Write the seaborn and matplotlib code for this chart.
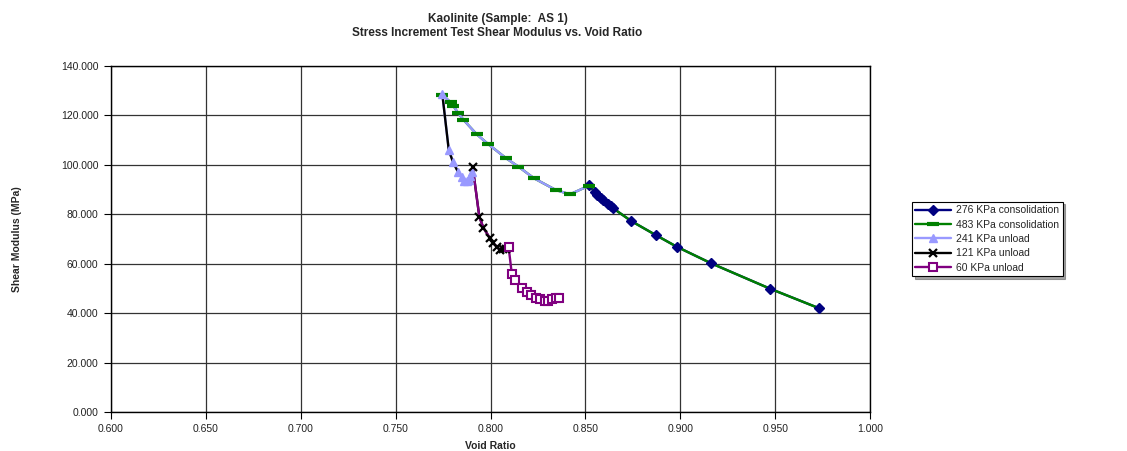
import numpy as np
import pandas as pd
import matplotlib
matplotlib.use("Agg")
import matplotlib.pyplot as plt
from matplotlib.lines import Line2D
import seaborn as sns

# Void ratio / shear modulus (MPa) for each loading stage
e_276_cons = [0.9731, 0.9473, 0.9162, 0.8981, 0.8871, 0.8741, 0.8647, 0.8633,
              0.8621, 0.8591, 0.8581, 0.8563, 0.8550, 0.8520]
g_276_cons = [42.0, 49.9, 60.2, 66.9, 71.6, 77.3, 82.4, 83.4,
              84.2, 85.8, 86.5, 87.8, 88.9, 91.8]

e_483_cons = [0.8519, 0.8419, 0.8345, 0.8229, 0.8147, 0.8082, 0.7988, 0.7927,
              0.7857, 0.7830, 0.7804, 0.7790, 0.7746]
g_483_cons = [91.6, 88.1, 89.8, 94.6, 99.3, 102.7, 108.4, 112.4,
              118.3, 120.9, 123.9, 125.3, 128.4]

e_241_unl = [0.7746, 0.7780, 0.7803, 0.7830, 0.7848, 0.7862, 0.7875, 0.7885,
             0.7893, 0.7900]
g_241_unl = [128.6, 106.0, 101.0, 97.0, 95.0, 93.5, 93.3, 94.0, 95.5, 97.0]

e_121_unl = [0.7906, 0.7941, 0.7962, 0.7997, 0.8015, 0.8033, 0.8050, 0.8065,
             0.8080]
g_121_unl = [99.2, 79.0, 74.6, 70.3, 68.3, 66.9, 65.5, 65.8, 66.0]

e_60_unl = [0.8095, 0.8112, 0.8130, 0.8165, 0.8190, 0.8215, 0.8240, 0.8262,
            0.8285, 0.8305, 0.8325, 0.8345, 0.8360]
g_60_unl = [66.9, 56.0, 53.3, 50.2, 48.6, 47.3, 46.1, 45.6,
            45.0, 45.1, 45.6, 46.0, 46.3]

series_names = ["276 KPa consolidation", "483 KPa consolidation",
                "241 KPa unload", "121 KPa unload", "60 KPa unload"]

x_ticks = [0.600, 0.650, 0.700, 0.750, 0.800, 0.850, 0.900, 0.950, 1.000]
y_ticks = [0.0, 20.0, 40.0, 60.0, 80.0, 100.0, 120.0, 140.0]

title_lines = ["Kaolinite (Sample:  AS 1)",
               "Stress Increment Test Shear Modulus vs. Void Ratio"]
x_label = "Void Ratio"
y_label = "Shear Modulus (MPa)"

# Style for each stage
styles = [
    dict(color="#000080", marker="D", ms=5, mfc="#000080", mec="#000080", mew=1.0),
    dict(color="#008000", marker="_", ms=9, mfc="#008000", mec="#008000", mew=3.0),
    dict(color="#9999FF", marker="^", ms=6, mfc="#9999FF", mec="#9999FF", mew=1.0),
    dict(color="#000000", marker="x", ms=6, mfc="#000000", mec="#000000", mew=1.6),
    dict(color="#800080", marker="s", ms=6, mfc="white", mec="#800080", mew=1.5),
]

sns.set_theme(style="white")
plt.rcParams["font.family"] = ["Liberation Sans", "DejaVu Sans"]

frames = []
for name, e, g in zip(series_names,
                      [e_276_cons, e_483_cons, e_241_unl, e_121_unl, e_60_unl],
                      [g_276_cons, g_483_cons, g_241_unl, g_121_unl, g_60_unl]):
    frames.append(pd.DataFrame({"void_ratio": e, "G": g, "stage": name}))

fig = plt.figure(figsize=(11.27, 4.51), dpi=100)
ax = fig.add_axes([0.0985, 0.0865, 0.6735, 0.767])

# Each stage's curve carries on from the path of the stage before it
for i, df in enumerate(frames):
    path = df if i == 0 else pd.concat([frames[i - 1], df], ignore_index=True)
    sns.lineplot(data=path, x="void_ratio", y="G", sort=False, estimator=None,
                 color=styles[i]["color"], lw=1.7, ax=ax, zorder=3 + i,
                 legend=False)

# Markers on top of all curves
for i, df in enumerate(frames):
    st = styles[i]
    sns.lineplot(data=df, x="void_ratio", y="G", sort=False, estimator=None,
                 linestyle="none", marker=st["marker"], markersize=st["ms"],
                 markerfacecolor=st["mfc"], markeredgecolor=st["mec"],
                 markeredgewidth=st["mew"], ax=ax, zorder=10 + i, legend=False)

ax.set_xlim(0.6, 1.0)
ax.set_ylim(0, 140)
ax.set_xticks(x_ticks)
ax.set_yticks(y_ticks)
ax.set_xticklabels([f"{v:.3f}" for v in x_ticks])
ax.set_yticklabels([f"{v:.3f}" for v in y_ticks])
ax.grid(True, color="#333333", lw=0.9)
ax.set_axisbelow(True)
for sp in ax.spines.values():
    sp.set_color("black")
    sp.set_linewidth(1.0)
ax.tick_params(axis="both", direction="out", length=5, width=0.8, color="black",
               labelsize=7.5, pad=4, labelcolor="#222222",
               bottom=True, left=True)

ax.set_xlabel(x_label, fontsize=7.5, fontweight="bold", labelpad=5)
ax.set_ylabel(y_label, fontsize=7.5, fontweight="bold")
ax.yaxis.set_label_coords(-0.117, 0.5)

fig.text(0.4415, 0.958, title_lines[0], ha="center", va="center",
         fontsize=8.5, fontweight="bold")
fig.text(0.4415, 0.926, title_lines[1], ha="center", va="center",
         fontsize=8.5, fontweight="bold")

handles = []
for name, st in zip(series_names, styles):
    handles.append(Line2D([0], [0], color=st["color"], lw=1.7,
                          marker=st["marker"], markersize=st["ms"],
                          markerfacecolor=st["mfc"], markeredgecolor=st["mec"],
                          markeredgewidth=st["mew"], label=name))
leg = fig.legend(handles=handles, loc="upper left",
                 bbox_to_anchor=(0.809, 0.553), fontsize=7.5, frameon=True,
                 fancybox=False, shadow=True, handlelength=3.4,
                 handletextpad=0.5, borderpad=0.35, labelspacing=0.42,
                 borderaxespad=0)
leg.get_frame().set_edgecolor("black")
leg.get_frame().set_linewidth(0.8)

fig.savefig("out.png", dpi=100, facecolor="white")
